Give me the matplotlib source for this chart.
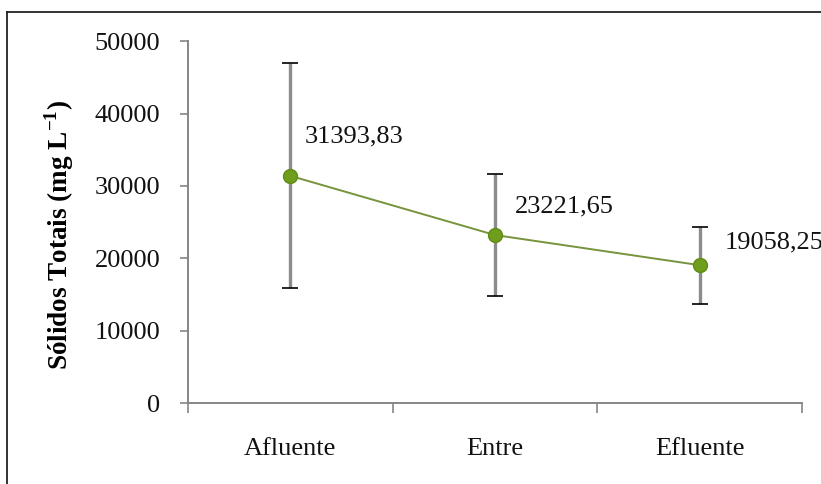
import numpy as np
import matplotlib
matplotlib.use("Agg")
import matplotlib.pyplot as plt
from matplotlib.lines import Line2D

# data
categories = ["Afluente", "Entre", "Efluente"]
means = [31393.83, 23221.65, 19058.25]
errors = [15550, 8450, 5300]
value_labels = ["31393,83", "23221,65", "19058,25"]
yticks = [0, 10000, 20000, 30000, 40000, 50000]

plt.rcParams['font.family'] = ['Liberation Serif', 'DejaVu Serif']

fig = plt.figure(figsize=(8.21, 4.84), dpi=100)
ax = fig.add_axes([0.229, 0.167, 0.748, 0.748])

x = np.arange(len(categories)) + 0.5
axis_col = "#868686"

# gray error bar body, black caps
ax.errorbar(x, means, yerr=errors, fmt="none", ecolor="#8C8C8C",
            elinewidth=2.4, capsize=0, zorder=2)
ax.errorbar(x, means, yerr=errors, fmt="none", ecolor="black",
            elinewidth=0, capsize=5.8, capthick=1.2, zorder=3)
ax.plot(x, means, color="#77933C", lw=1.4, marker="o", markersize=10,
        markerfacecolor="#6E9E1C", markeredgecolor="#5F8C14", zorder=4)

offsets = [(14, 28), (20, 18), (25, 12)]
for xi, yi, lab, off in zip(x, means, value_labels, offsets):
    ax.annotate(lab, (xi, yi), xytext=off, textcoords="offset pixels",
                fontsize=19, color="#111111", va="bottom", ha="left",
                annotation_clip=False)

ax.set_xlim(0, 3)
ax.set_ylim(0, 50000)
ax.set_yticks(yticks)
ax.set_yticklabels([str(t) for t in yticks])
ax.set_xticks([0, 1, 2, 3])
ax.set_xticklabels([])
ax.set_xticks(x, minor=True)
ax.set_xticklabels(categories, minor=True)

for s in ["top", "right"]:
    ax.spines[s].set_visible(False)
for s in ["left", "bottom"]:
    ax.spines[s].set_color(axis_col)
    ax.spines[s].set_linewidth(1.4)

ax.tick_params(axis="both", which="major", color=axis_col, width=1.2,
               length=6, labelsize=19, labelcolor="#111111")
ax.tick_params(axis="x", which="major", length=7)
ax.tick_params(axis="x", which="minor", length=0, pad=25, labelsize=19,
               labelcolor="#111111")
ax.tick_params(axis="y", pad=14)

ax.set_ylabel("Sólidos Totais (mg L$^{\\mathregular{-1}}$)", fontsize=19.5,
              fontweight="bold")
ax.yaxis.set_label_coords(-0.182, 0.465)

# outer frame lines (top and left) as in the original page crop
fig.add_artist(Line2D([7 / 821, 1], [1 - 12 / 484, 1 - 12 / 484],
                      transform=fig.transFigure, color="#222222", lw=1.3))
fig.add_artist(Line2D([7 / 821, 7 / 821], [0, 1 - 12 / 484],
                      transform=fig.transFigure, color="#222222", lw=1.3))

fig.savefig("out.png", dpi=100)
